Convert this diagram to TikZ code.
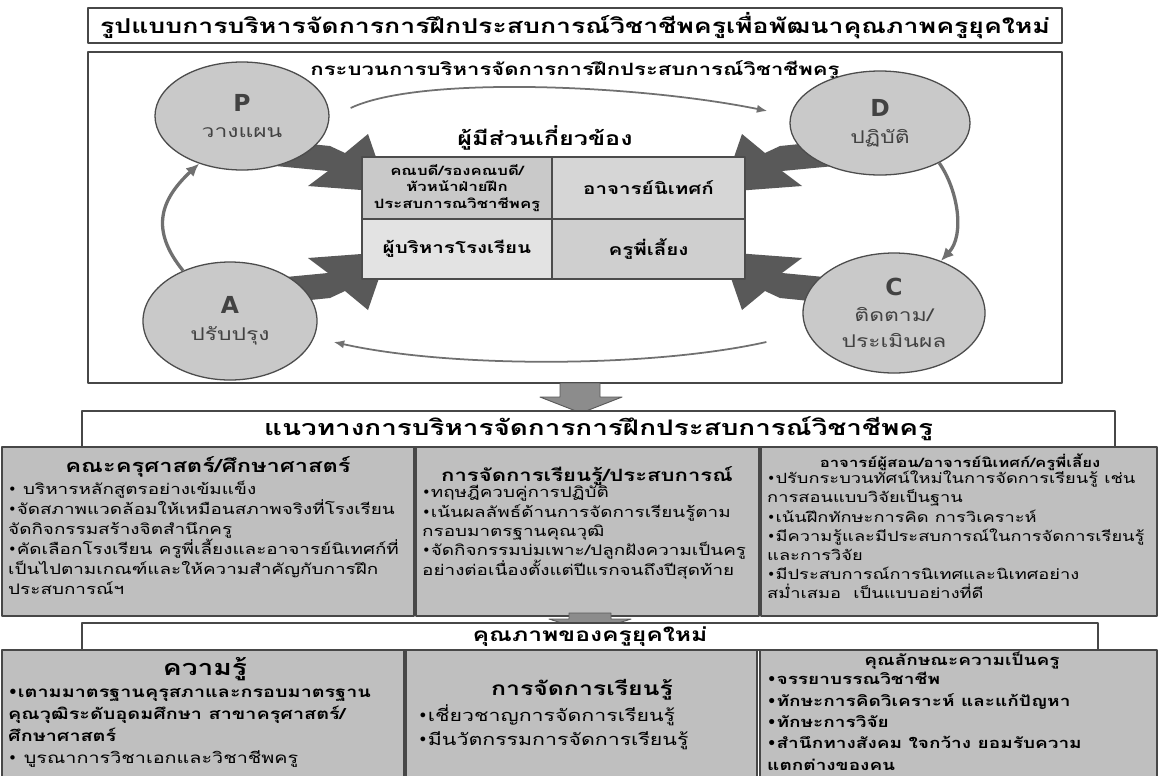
\documentclass[tikz,border=0pt]{standalone}
\usepackage{fontspec}
\setmainfont{Loma}[Script=Thai,FakeStretch=1.3]
\newfontfamily\latinfont{DejaVu Sans}
\usetikzlibrary{shapes.geometric,arrows.meta}
\definecolor{ringfill}{gray}{0.79}
\definecolor{ringline}{gray}{0.30}
\definecolor{ringtext}{gray}{0.26}
\definecolor{cycline}{gray}{0.44}
\definecolor{burstfill}{gray}{0.35}
\definecolor{gridline}{gray}{0.30}
\definecolor{cellA}{gray}{0.79}
\definecolor{cellB}{gray}{0.84}
\definecolor{cellC}{gray}{0.89}
\definecolor{cellD}{gray}{0.81}
\definecolor{colfill}{gray}{0.75}
\definecolor{colline}{gray}{0.28}
\definecolor{arrowfill}{gray}{0.55}
\newcommand\bul{{\latinfont •}}
\newcommand\fs[2]{\fontsize{#1}{#2}\selectfont}
\begin{document}
\begin{tikzpicture}[x=0.03cm,y=-0.03cm,line join=round,
  hdrbox/.style={draw=colline,line width=1.1pt,fill=white,inner sep=0pt},
  phase/.style={ellipse,draw=ringline,line width=1.1pt,fill=ringfill,inner sep=0pt,align=center,text=ringtext,font=\fs{15}{23}},
  cell/.style={rectangle,draw=gridline,line width=1.1pt,inner sep=0pt,align=center,font=\bfseries\fs{13.5}{16}},
  cyc/.style={draw=cycline,line width=2.8pt,-{Latex[length=11pt,width=10pt]}},
  thincyc/.style={draw=cycline,line width=1.5pt,-{Latex[length=9pt,width=7pt]}},
  col/.style={rectangle,draw=colline,line width=1.4pt,fill=colfill,inner sep=0pt},
  body/.style={anchor=north west,align=left,inner sep=0pt},
  blockarrow/.style={fill=arrowfill,draw=gray!70!black,line width=0.8pt}]
\useasboundingbox (0,0) rectangle (1159,775);
\clip (0,0) rectangle (1159,775);
\fill[white] (0,0) rectangle (1159,775);

% title and cycle frame
\node[hdrbox,minimum width=29.22cm,minimum height=1.05cm,font=\bfseries\fs{17.5}{20}] (title) at (575,25.5) {รูปแบบการบริหารจัดการการฝึกประสบการณ์วิชาชีพครูเพื่อพัฒนาคุณภาพครูยุคใหม่};
\node[hdrbox,minimum width=29.22cm,minimum height=9.93cm] (cycbox) at (575,217.5) {};
\node[font=\bfseries\fs{14.5}{17}] (proc) at (575,70) {กระบวนการบริหารจัดการการฝึกประสบการณ์วิชาชีพครู};

% arrows from the phases into the stakeholder grid
\foreach \sx/\dx/\sy/\dy in {1/0/1/0, -1/1110/1/0, 1/0/-1/444, -1/1110/-1/444}
  \fill[burstfill,shift={(\dx,\dy)},xscale=\sx,yscale=\sy] (270,140) -- (330,146) -- (345,153) -- (368,134) -- (388,192) -- (308,186) -- (328,171) -- (265,165) -- cycle;

\node[phase,minimum width=5.22cm,minimum height=3.24cm] (P) at (242,116) {{\latinfont\bfseries\fs{20}{22}P}\\วางแผน};
\node[phase,minimum width=5.4cm,minimum height=3.12cm] (D) at (880,123) {{\latinfont\bfseries\fs{20}{22}D}\\ปฏิบัติ};
\node[phase,minimum width=5.22cm,minimum height=3.54cm] (A) at (230,321) {{\latinfont\bfseries\fs{20}{22}A}\\ปรับปรุง};
\node[phase,minimum width=5.46cm,minimum height=3.6cm,font=\fs{15}{22}] (C) at (894,313) {{\latinfont\bfseries\fs{20}{22}C}\\ติดตาม/\\ประเมินผล};

\draw[thincyc] ([shift={(21,-8)}]P.east) .. controls (420,75) and (640,85) .. ([shift={(-22,-12)}]D.west);
\draw[cyc] (D.326) .. controls (958,190) and (965,235) .. (C.48);
\draw[thincyc] ([shift={(-36,29)}]C.west) .. controls (650,368) and (450,368) .. ([shift={(16,21)}]A.east);
\draw[cyc] (A.133) .. controls (150,230) and (160,200) .. (P.228);

\node[font=\bfseries\fs{16.5}{19}] (stake) at (545,138) {ผู้มีส่วนเกี่ยวข้อง};
\node[cell,fill=cellA,minimum width=5.7cm,minimum height=1.86cm,font=\bfseries\fs{11}{14}] (dean) at (457,188) {คณบดี/รองคณบดี/\\หัวหน้าฝ่ายฝึก\\ประสบการณวิชาชีพครู};
\node[cell,fill=cellB,minimum width=5.79cm,minimum height=1.86cm] (sup) at (648.5,188) {อาจารย์นิเทศก์};
\node[cell,fill=cellC,minimum width=5.7cm,minimum height=1.8cm] (adm) at (457,249) {ผู้บริหารโรงเรียน};
\node[cell,fill=cellD,minimum width=5.79cm,minimum height=1.8cm] (mentor) at (648.5,249) {ครูพี่เลี้ยง};

% guideline row
\fill[blockarrow] (560,383) -- (600,383) -- (600,397) -- (622,397) -- (581,413) -- (540,397) -- (560,397) -- cycle;
\node[hdrbox,minimum width=30.99cm,minimum height=1.08cm,font=\bfseries\fs{18.3}{21}] (guide) at (598.5,429) {แนวทางการบริหารจัดการการฝึกประสบการณ์วิชาชีพครู};
\node[col,minimum width=12.36cm,minimum height=5.07cm] (fac) at (208,531.5) {};
\node[col,minimum width=10.29cm,minimum height=5.07cm] (lrn) at (587.5,531.5) {};
\node[col,minimum width=11.88cm,minimum height=5.07cm] (tch) at (959,531.5) {};
\node[font=\bfseries\fs{15.5}{18}] (facT) at (208,467) {คณะครุศาสตร์/ศึกษาศาสตร์};
\node[body,font=\fs{12.4}{17}] (facB) at (8,481) {\bul\ บริหารหลักสูตรอย่างเข้มแข็ง\\\bul จัดสภาพแวดล้อมให้เหมือนสภาพจริงที่โรงเรียน\\จัดกิจกรรมสร้างจิตสำนึกครู\\\bul คัดเลือกโรงเรียน ครูพี่เลี้ยงและอาจารย์นิเทศก์ที่\\เป็นไปตามเกณฑ์และให้ความสำคัญกับการฝึก\\ประสบการณ์ฯ};
\node[font=\bfseries\fs{14.5}{17}] (lrnT) at (587,476) {การจัดการเรียนรู้/ประสบการณ์};
\node[body,font=\fs{12.4}{16.6}] (lrnB) at (422,485) {\bul ทฤษฎีควบคู่การปฏิบัติ\\\bul เน้นผลลัพธ์ด้านการจัดการเรียนรู้ตาม\\กรอบมาตรฐานคุณวุฒิ\\\bul จัดกิจกรรมบ่มเพาะ/ปลูกฝังความเป็นครู\\อย่างต่อเนื่องตั้งแต่ปีแรกจนถึงปีสุดท้าย};
\node[font=\bfseries\fs{11}{14}] (tchT) at (960,462) {อาจารย์ผู้สอน/อาจารย์นิเทศก์/ครูพี่เลี้ยง};
\node[body,font=\fs{12}{16.3}] (tchB) at (767,471) {\bul ปรับกระบวนทัศน์ใหม่ในการจัดการเรียนรู้ เช่น\\การสอนแบบวิจัยเป็นฐาน\\\bul เน้นฝึกทักษะการคิด การวิเคราะห์\\\bul มีความรู้และมีประสบการณ์ในการจัดการเรียนรู้\\และการวิจัย\\\bul มีประสบการณ์การนิเทศและนิเทศอย่าง\\สม่ำเสมอ\ \ เป็นแบบอย่างที่ดี};

% quality row
\fill[blockarrow] (569,613) -- (611,613) -- (611,619) -- (631,619) -- (590,632) -- (549,619) -- (569,619) -- cycle;
\node[hdrbox,minimum width=30.48cm,minimum height=0.81cm,font=\bfseries\fs{16.2}{19}] (quality) at (590,636.5) {คุณภาพของครูยุคใหม่};
\node[col,minimum width=12.06cm,minimum height=4.5cm] (know) at (203,725) {};
\node[col,minimum width=10.53cm,minimum height=4.5cm] (teach) at (581.5,725) {};
\node[col,minimum width=11.91cm,minimum height=4.5cm] (trait) at (958.5,725) {};
\node[font=\bfseries\fs{18.5}{21}] (knowT) at (205,669) {ความรู้};
\node[body,font=\bfseries\fs{13}{18.8}] (knowB) at (8,688) {\bul เตามมาตรฐานคุรุสภาและกรอบมาตรฐาน\\คุณวุฒิระดับอุดมศึกษา สาขาครุศาสตร์/\\ศึกษาศาสตร์\\{\mdseries\bul\ บูรณาการวิชาเอกและวิชาชีพครู}};
\node[font=\bfseries\fs{16.3}{19}] (teachT) at (582,690) {การจัดการเรียนรู้};
\node[body,font=\fs{14}{21}] (teachB) at (418,704) {\bul เชี่ยวชาญการจัดการเรียนรู้\\\bul มีนวัตกรรมการจัดการเรียนรู้};
\node[font=\bfseries\fs{12.5}{15}] (traitT) at (962,661) {คุณลักษณะความเป็นครู};
\node[body,font=\bfseries\fs{12.5}{18.3}] (traitB) at (767,672) {\bul จรรยาบรรณวิชาชีพ\\\bul ทักษะการคิดวิเคราะห์ และแก้ปัญหา\\\bul ทักษะการวิจัย\\\bul สำนึกทางสังคม ใจกว้าง ยอมรับความ\\แตกต่างของคน};
\end{tikzpicture}
\end{document}
